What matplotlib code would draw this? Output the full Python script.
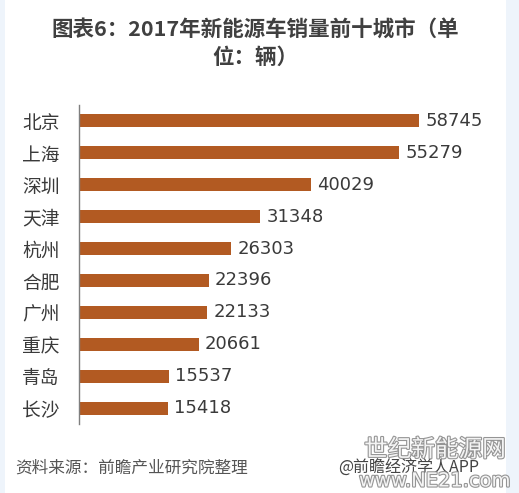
import matplotlib
matplotlib.use("Agg")
import matplotlib.pyplot as plt
import matplotlib.patheffects as pe
from matplotlib.patches import Rectangle

plt.rcParams['font.family'] = ['Noto Sans CJK SC', 'DejaVu Sans']

# data
cities = ['北京', '上海', '深圳', '天津', '杭州', '合肥', '广州', '重庆', '青岛', '长沙']
sales = [58745, 55279, 40029, 31348, 26303, 22396, 22133, 20661, 15537, 15418]

bar_color = '#B25A22'
text_color = '#3a3a3a'

fig = plt.figure(figsize=(5.19, 4.93), dpi=100, facecolor='#EEF4FB')
# white page with light blue strips at the edges
fig.patches.append(Rectangle((5 / 519, 0), 501 / 519, 1, transform=fig.transFigure,
                             facecolor='white', edgecolor='none', zorder=-5))

ax = fig.add_axes([79 / 519, 1 - 424 / 493, 405 / 519, 319 / 493])
ax.set_facecolor('none')
ax.set_zorder(2)

pos = list(range(len(cities)))
ax.barh(pos, sales, height=0.41, color=bar_color)
ax.set_ylim(len(cities) - 0.5, -0.5)
ax.set_xlim(0, 70000)

for p, v in zip(pos, sales):
    ax.annotate(str(v), xy=(v, p), xytext=(4.5, 0), textcoords='offset points',
                va='center', ha='left', fontsize=13, color=text_color,
                family='DejaVu Sans')

ax.set_yticks(pos)
ax.set_yticklabels(cities, fontsize=13.5, color=text_color)
ax.tick_params(axis='y', length=0, pad=14)
ax.set_xticks([])
for s in ['top', 'right', 'bottom']:
    ax.spines[s].set_visible(False)
ax.spines['left'].set_color('#7f7f7f')
ax.spines['left'].set_linewidth(1)

# title
fig.text(0.492, 1 - 30 / 493, '图表6：2017年新能源车销量前十城市（单', ha='center', va='center',
         fontsize=15.5, fontweight='bold', color='#404040')
fig.text(0.492, 1 - 57 / 493, '位：辆）', ha='center', va='center',
         fontsize=15.5, fontweight='bold', color='#404040')

# footer
fig.text(15 / 519, 1 - 468 / 493, '资料来源：前瞻产业研究院整理', ha='left', va='center',
         fontsize=12, color='#555555', style='italic')
fig.text(338 / 519, 1 - 468 / 493, '@前瞻经济学人APP', ha='left', va='center',
         fontsize=11.5, color='#444444')

# site watermark
stroke = [pe.withStroke(linewidth=1.6, foreground='#8a8a8a')]
fig.text(435 / 519, 1 - 450 / 493, '世纪新能源网', ha='center', va='center',
         fontsize=17, color='white', path_effects=stroke, alpha=0.9, zorder=5)
fig.text(435 / 519, 1 - 481 / 493, 'www.NE21.com', ha='center', va='center',
         fontsize=14, color='white', path_effects=stroke, alpha=0.9,
         family='DejaVu Sans', zorder=5)

fig.savefig('out.png', dpi=100, facecolor=fig.get_facecolor())
